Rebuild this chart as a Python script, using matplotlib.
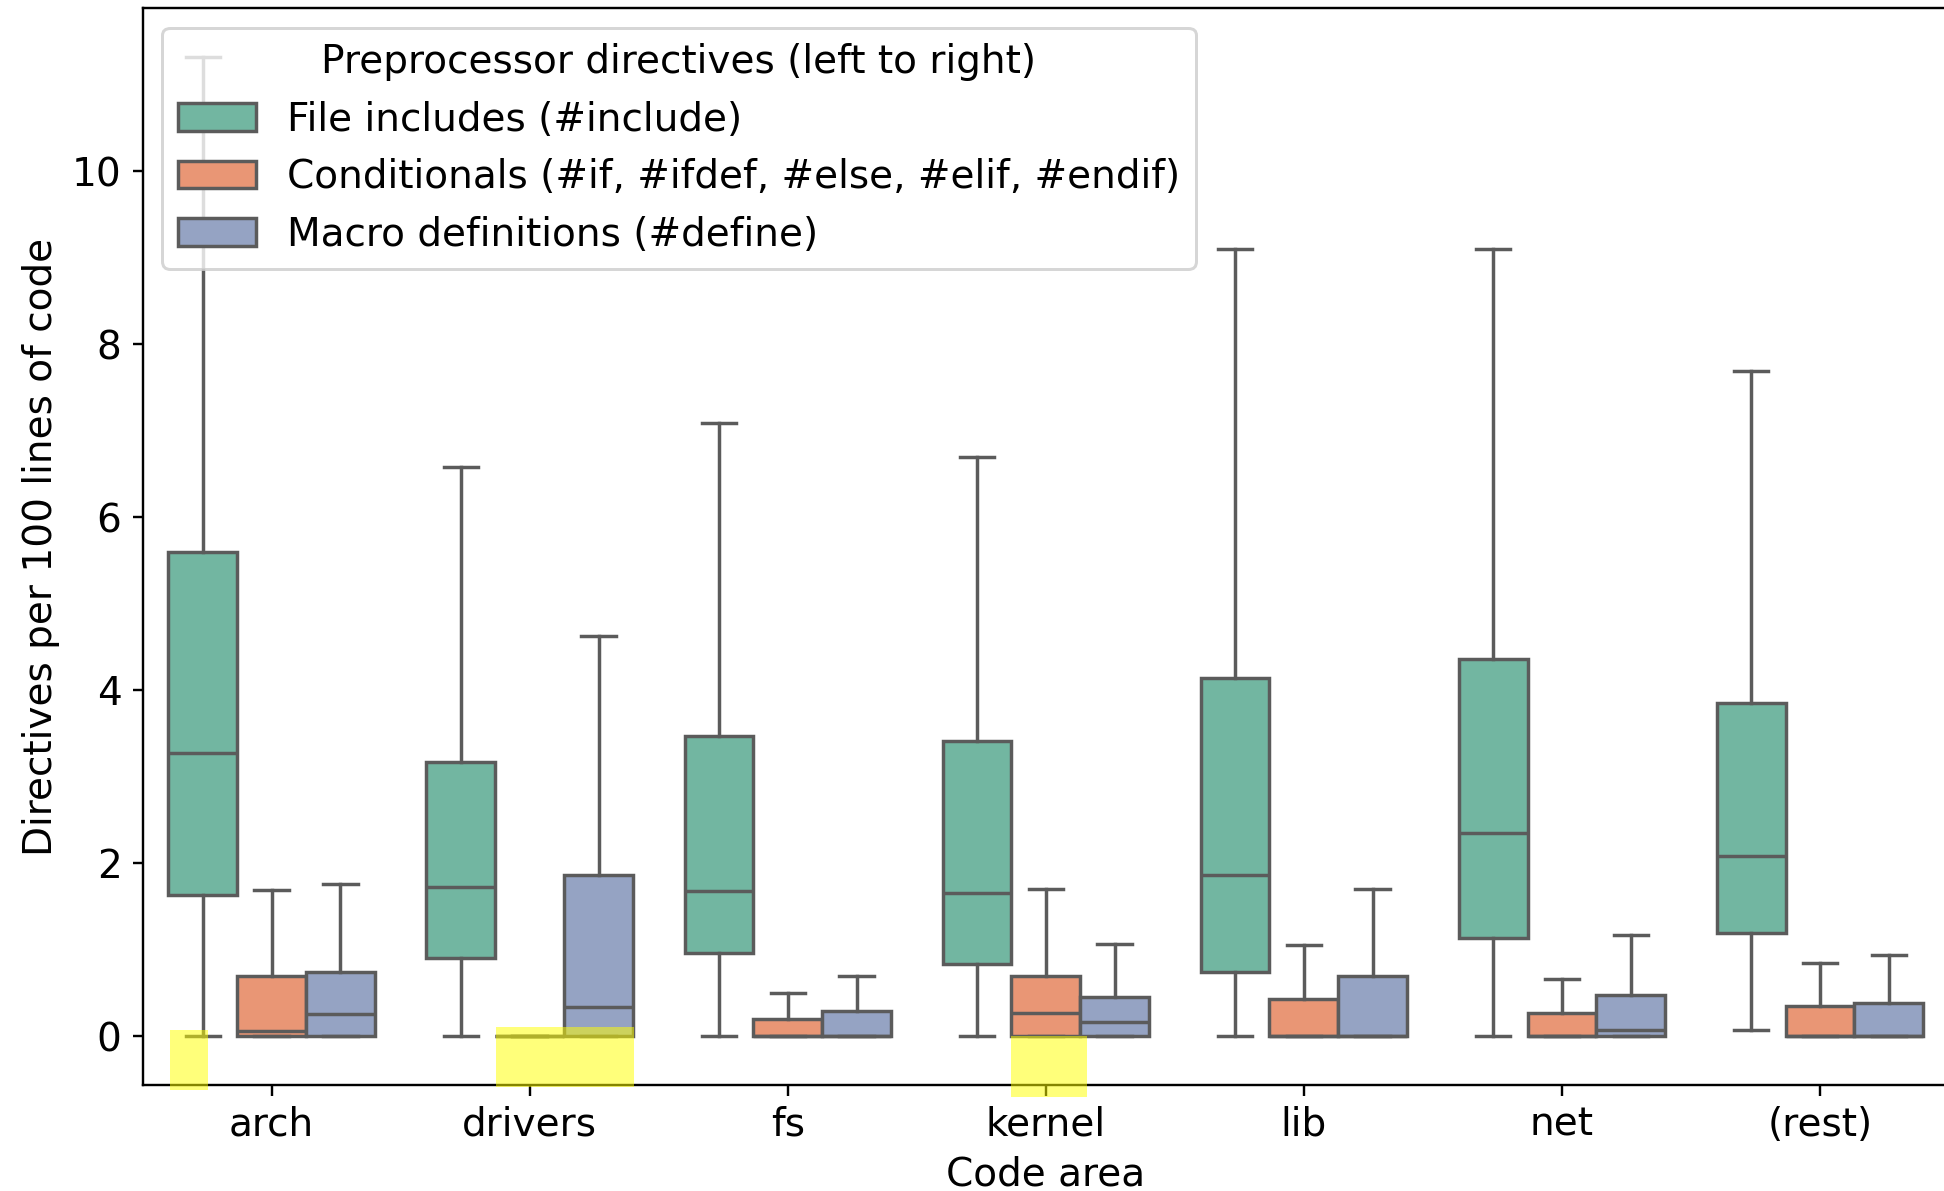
import colorsys
import matplotlib
matplotlib.use("Agg")
import matplotlib.pyplot as plt
from matplotlib.colors import to_rgb
from matplotlib.patches import Patch, Rectangle

categories = ["arch", "drivers", "fs", "kernel", "lib", "net", "(rest)"]
directive_labels = [
    "File includes (#include)",
    "Conditionals (#if, #ifdef, #else, #elif, #endif)",
    "Macro definitions (#define)",
]

# directives per 100 lines of code, per area:
# (lower whisker, q1, median, q3, upper whisker)
include_stats = [
    (0.0, 1.63, 3.27, 5.60, 11.32),
    (0.0, 0.90, 1.72, 3.17, 6.58),
    (0.0, 0.96, 1.68, 3.47, 7.09),
    (0.0, 0.83, 1.65, 3.41, 6.70),
    (0.0, 0.745, 1.86, 4.14, 9.10),
    (0.0, 1.13, 2.35, 4.36, 9.10),
    (0.075, 1.19, 2.08, 3.85, 7.69),
]
conditional_stats = [
    (0.0, 0.0, 0.06, 0.70, 1.69),
    (0.0, 0.0, 0.0, 0.0, 0.0),
    (0.0, 0.0, 0.0, 0.20, 0.50),
    (0.0, 0.0, 0.27, 0.69, 1.70),
    (0.0, 0.0, 0.0, 0.43, 1.05),
    (0.0, 0.0, 0.0, 0.27, 0.66),
    (0.0, 0.0, 0.0, 0.345, 0.84),
]
define_stats = [
    (0.0, 0.0, 0.26, 0.745, 1.76),
    (0.0, 0.0, 0.34, 1.86, 4.63),
    (0.0, 0.0, 0.0, 0.29, 0.70),
    (0.0, 0.0, 0.16, 0.45, 1.06),
    (0.0, 0.0, 0.0, 0.69, 1.70),
    (0.0, 0.0, 0.075, 0.47, 1.165),
    (0.0, 0.0, 0.0, 0.38, 0.94),
]

# yellow marker spots near the zero line (x0, x1, y0, y1), data units
highlights = [
    (-0.394, -0.246, -0.62, 0.075),
    (0.868, 1.404, -0.59, 0.10),
    (2.864, 3.158, -0.70, 0.006),
]


def desaturate(color, prop):
    h, l, s = colorsys.rgb_to_hls(*to_rgb(color))
    return colorsys.hls_to_rgb(h, l, s * prop)


plt.rcParams["font.family"] = "DejaVu Sans"
plt.rcParams["font.size"] = 13

set2 = ["#66c2a5", "#fc8d62", "#8da0cb"]
colors = [desaturate(c, 0.75) for c in set2]
line_gray = "#5b5b5b"
lw = 1.15

fig = plt.figure(figsize=(9, 1191 / 216), dpi=216)
ax = fig.add_axes([142.6 / 1944, 106 / 1191, (1949 - 142.6) / 1944, (1085 - 8) / 1191])

all_stats = [include_stats, conditional_stats, define_stats]
n = len(all_stats)
width = 0.8 / n
for i, (stats, color) in enumerate(zip(all_stats, colors)):
    offset = (i - (n - 1) / 2) * width
    boxes = [dict(whislo=s[0], q1=s[1], med=s[2], q3=s[3], whishi=s[4], fliers=[])
             for s in stats]
    ax.bxp(boxes, positions=[k + offset for k in range(len(categories))],
           widths=width, patch_artist=True, showfliers=False, manage_ticks=False,
           boxprops=dict(facecolor=color, edgecolor=line_gray, linewidth=lw),
           whiskerprops=dict(color=line_gray, linewidth=lw),
           capprops=dict(color=line_gray, linewidth=lw),
           medianprops=dict(color=line_gray, linewidth=lw))

ax.set_xticks(range(len(categories)), categories)
ax.set_xlim(-0.5, len(categories) - 0.5)
ylo, yhi = ax.get_ylim()

for x0, x1, y0, y1 in highlights:
    ax.add_patch(Rectangle((x0, y0), x1 - x0, y1 - y0, facecolor="#ffff00",
                           edgecolor="none", alpha=0.52, clip_on=False, zorder=5))
ax.set_ylim(ylo, yhi)

ax.set_xlabel("Code area")
ax.set_ylabel("Directives per 100 lines of code")

handles = [Patch(facecolor=c, edgecolor=line_gray, linewidth=lw) for c in colors]
ax.legend(handles, directive_labels, title="Preprocessor directives (left to right)",
          loc="upper left")

fig.savefig("out.png", dpi=216)
